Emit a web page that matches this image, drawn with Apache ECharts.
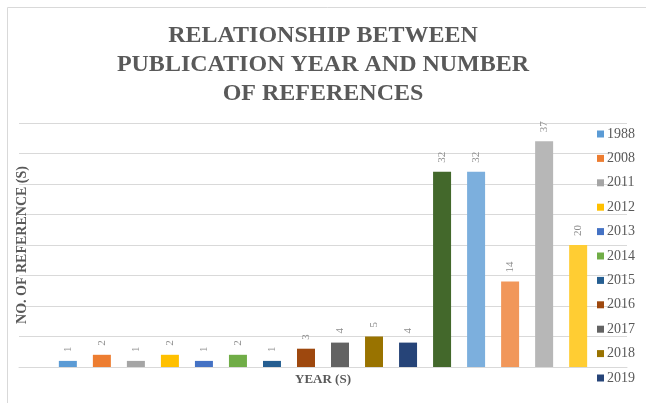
<!DOCTYPE html>
<html>
<head>
<meta charset="utf-8">
<script src="https://cdn.jsdelivr.net/npm/echarts@6/dist/echarts.min.js"></script>
<style>
  html, body { margin: 0; padding: 0; background: #fff; }
  #chart { width: 646px; height: 403px; }
</style>
</head>
<body>
<div id="chart"></div>
<script>
const years = ['1988', '2008', '2011', '2012', '2013', '2014', '2015', '2016',
  '2017', '2018', '2019', '2020', '2021', '2022', '2023', '2024']
const counts = [1, 2, 1, 2, 1, 2, 1, 3, 4, 5, 4, 32, 32, 14, 37, 20]
const colors = ['#5b9bd5', '#ed7d31', '#a5a5a5', '#ffc000', '#4472c4', '#70ad47',
  '#255e91', '#9e480e', '#636363', '#997300', '#264478', '#43682b',
  '#7cafdd', '#f1975a', '#b7b7b7', '#ffcd33']
// only the first eleven years fit in the legend of the original
const legendYears = years.slice(0, 11)

const serif = '"Liberation Serif", "DejaVu Serif", serif'
const grey = '#595959'

const chart = echarts.init(document.getElementById('chart'))

const series = years.map((y, i) => ({
  name: y,
  type: 'bar',
  data: [counts[i]],
  barWidth: 18,
  barGap: '89%',
  itemStyle: { color: colors[i] },
  label: {
    show: true,
    position: 'top',
    rotate: 90,
    align: 'left',
    verticalAlign: 'middle',
    distance: 9,
    color: '#8c8c8c',
    fontSize: 11,
    fontFamily: serif
  }
}))

chart.setOption({
  animation: false,
  graphic: [{
    type: 'rect',
    shape: { x: 7.5, y: 7.5, width: 700, height: 500 },
    style: { fill: 'none', stroke: '#d9d9d9', lineWidth: 1 },
    silent: true
  }],
  title: {
    text: 'RELATIONSHIP BETWEEN\nPUBLICATION YEAR AND NUMBER\nOF REFERENCES',
    left: 'center',
    top: 16,
    textStyle: {
      fontFamily: serif,
      fontWeight: 'bold',
      fontSize: 24,
      lineHeight: 29,
      color: grey
    }
  },
  legend: {
    data: legendYears,
    orient: 'vertical',
    left: 592,
    top: 121,
    itemWidth: 7,
    itemHeight: 7,
    itemGap: 8.4,
    icon: 'rect',
    textStyle: { fontFamily: serif, fontSize: 14, lineHeight: 16, color: grey, padding: [0, 0, 0, -2] }
  },
  grid: { left: 19, right: 19, top: 123, bottom: 36 },
  xAxis: {
    type: 'category',
    data: [''],
    name: 'YEAR (S)',
    nameLocation: 'middle',
    nameGap: 6,
    nameTextStyle: { fontFamily: serif, fontWeight: 'bold', fontSize: 13, color: grey },
    axisLine: { lineStyle: { color: '#d9d9d9' } },
    axisTick: { show: false },
    axisLabel: { show: false }
  },
  yAxis: {
    type: 'value',
    min: 0,
    max: 40,
    interval: 5,
    name: 'NO. OF REFERENCE (S)',
    nameLocation: 'middle',
    nameGap: -10,
    nameTextStyle: { fontFamily: serif, fontWeight: 'bold', fontSize: 14, color: grey },
    axisLabel: { show: false },
    axisLine: { show: false },
    axisTick: { show: false },
    splitLine: { lineStyle: { color: '#d9d9d9', width: 1 } }
  },
  series: series
})
</script>
</body>
</html>
